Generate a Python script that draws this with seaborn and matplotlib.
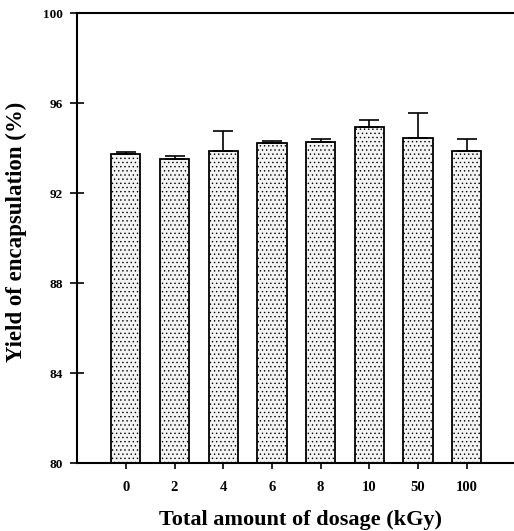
import matplotlib
matplotlib.use("Agg")
import matplotlib.pyplot as plt
import seaborn as sns
import numpy as np
import pandas as pd

dosage = ["0", "2", "4", "6", "8", "10", "50", "100"]
yield_mean = [93.73, 93.50, 93.87, 94.21, 94.25, 94.95, 94.46, 93.87]
yield_err = [0.10, 0.14, 0.89, 0.12, 0.16, 0.28, 1.08, 0.54]
y_ticks = [80, 84, 88, 92, 96, 100]

sns.set_theme(style="white")
plt.rcParams['font.family'] = ['Liberation Serif', 'DejaVu Serif']
plt.rcParams['font.weight'] = 'bold'
plt.rcParams['text.color'] = 'black'
plt.rcParams['axes.labelcolor'] = 'black'
plt.rcParams['xtick.color'] = 'black'
plt.rcParams['ytick.color'] = 'black'
plt.rcParams['hatch.color'] = '#b4b4b4'
plt.rcParams['hatch.linewidth'] = 0.5

df = pd.DataFrame({"dosage": dosage, "yield": yield_mean})

fig = plt.figure(figsize=(5.14, 5.31), dpi=100)
ax = fig.add_axes([0.150, 0.128, 0.850, 0.8475])

sns.barplot(data=df, x="dosage", y="yield", order=dosage, color="#f3f3f3",
            edgecolor="black", linewidth=1.3, width=0.6, errorbar=None, ax=ax,
            saturation=1)
for p in ax.patches:
    p.set_hatch('....')
    p.set_edgecolor('black')

xs = np.arange(len(dosage))
ax.errorbar(xs, yield_mean, yerr=[np.zeros(len(yield_err)), yield_err], fmt='none',
            ecolor='black', elinewidth=1.2, capsize=7, capthick=1.2)

ax.set_ylim(80, 100)
ax.set_xlim(-1.0, 7.97)
ax.set_yticks(y_ticks)
ax.set_yticklabels([str(t) for t in y_ticks], fontsize=9.5, fontweight='bold')
ax.set_xticks(xs)
ax.set_xticklabels(dosage, fontsize=10.5, fontweight='bold')

ax.tick_params(axis='y', direction='inout', length=10, width=1.2, pad=5, left=True,
               colors='black')
ax.tick_params(axis='x', direction='out', length=4, width=1.2, pad=9, bottom=True,
               colors='black')

for s in ['left', 'bottom', 'top']:
    ax.spines[s].set_visible(True)
    ax.spines[s].set_color('black')
    ax.spines[s].set_linewidth(1.5)
ax.spines['right'].set_visible(False)

ax.set_ylabel("Yield of encapsulation (%)", fontsize=16.5, fontweight='bold',
              color='black')
ax.yaxis.set_label_coords(-(77 - 27) / (514 - 77), (463 - 232) / 450)
ax.set_xlabel("Total amount of dosage (kGy)", fontsize=16, fontweight='bold',
              color='black')
ax.xaxis.set_label_coords((300 - 77) / (514 - 77), -0.105)

fig.savefig("out.png", dpi=100)
